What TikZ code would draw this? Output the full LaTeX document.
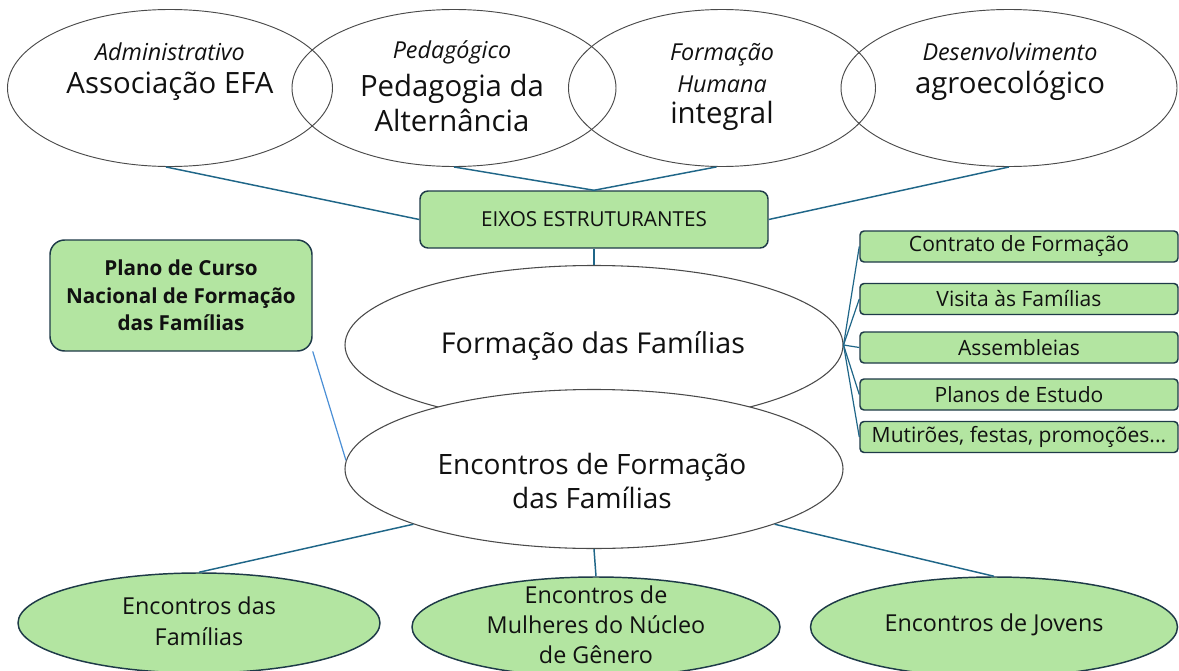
\documentclass[tikz,border=0pt]{standalone}
\usepackage{fontspec}
\setmainfont{Open Sans}
\usetikzlibrary{shapes.geometric}
\definecolor{grn}{HTML}{B3E5A1}
\definecolor{edgec}{HTML}{1E3A48}
\definecolor{lnk}{HTML}{1F6688}
\definecolor{lnkb}{HTML}{4A8FD6}
\definecolor{ellc}{HTML}{4A4A4A}
\definecolor{txt}{HTML}{111111}
\tikzset{
  topell/.style={ellipse, draw=ellc, line width=0.7pt, inner sep=0pt,
    minimum height={157*0.75pt}},
  midell/.style={ellipse, draw=ellc, fill=white, line width=0.8pt, inner sep=0pt,
    minimum width={498*0.75pt}, minimum height={159*0.75pt}},
  botell/.style={ellipse, draw=edgec, fill=grn, line width=1.1pt, inner sep=0pt,
    minimum height={100*0.75pt}},
  sidebox/.style={rectangle, rounded corners=3pt, draw=edgec, fill=grn, line width=1.1pt,
    minimum width={318*0.75pt}, minimum height={31*0.75pt}, inner sep=0pt,
    font=\fontsize{15.8}{19}\selectfont, text=txt},
  lbl/.style={text=txt, align=center, inner sep=0pt},
  itl/.style={lbl, font=\fontsize{17.5}{24}\selectfont\itshape},
  big/.style={lbl, font=\fontsize{22}{26}\selectfont},
  bottxt/.style={lbl, font=\fontsize{17.5}{22.5}\selectfont},
  conn/.style={draw=lnk, line width=1.1pt},
}
\begin{document}
\begin{tikzpicture}[x=0.75pt,y=-0.75pt]
\useasboundingbox (0,0) rectangle (1179,671);
\fill[white] (0,0) rectangle (1179,671);

% top ellipses
\node[topell, minimum width={325*0.75pt}] (e1) at (170,88) {};
\node[topell, minimum width={324*0.75pt}] (e2) at (454,88) {};
\node[topell, minimum width={307*0.75pt}] (e3) at (722,88) {};
\node[topell, minimum width={336*0.75pt}] (e4) at (1009,88) {};

\node[itl] (l1) at (170,52) {Administrativo};
\node[big] (m1) at (170,86) {Associação EFA};
\node[itl] (l2) at (452,52) {Pedagógico};
\node[big] (m2) at (452,103) {Pedagogia da\\Alternância};
\node[itl] (l3) at (722,68) {Formação\\Humana};
\node[big] (m3) at (722,116) {integral};
\node[itl] (l4) at (1010,52) {Desenvolvimento};
\node[big] (m4) at (1010,86) {agroecológico};

% eixos
\node[rectangle, rounded corners=6pt, draw=edgec, fill=grn, line width=1.1pt,
  minimum width={348*0.75pt}, minimum height={57*0.75pt}, inner sep=0pt,
  font=\fontsize{15.5}{18}\selectfont, text=txt] (eixos) at (594,219.5) {EIXOS ESTRUTURANTES};

% plano
\node[rectangle, rounded corners=11pt, draw=edgec, fill=grn, line width=1.1pt,
  minimum width={262*0.75pt}, minimum height={111*0.75pt}, inner sep=0pt, align=center,
  font=\fontsize{15.5}{20.5}\selectfont\bfseries, text=txt] (plano) at (181,295.5)
  {Plano de Curso\\Nacional de Formação\\das Famílias};

% middle ellipses
\node[midell] (form) at (594,345) {};
\node[big, font=\fontsize{21.5}{26}\selectfont] (formt) at (593,346) {Formação das Famílias};
\node[midell] (enc) at (594,469) {};
\node[big, font=\fontsize{21}{26}\selectfont] (enct) at (592,481) {Encontros de Formação\\das Famílias};

% side boxes
\node[sidebox] (s1) at (1019,246.5) {Contrato de Formação};
\node[sidebox] (s2) at (1019,299) {Visita às Famílias};
\node[sidebox] (s3) at (1019,347.5) {Assembleias};
\node[sidebox] (s4) at (1019,394.5) {Planos de Estudo};
\node[sidebox] (s5) at (1019,437) {Mutirões, festas, promoções...};

% bottom ellipses
\node[botell, minimum width={362*0.75pt}] (b1) at (199,623) {};
\node[bottxt, font=\fontsize{17.5}{23}\selectfont] (b1t) at (199,621) {Encontros das\\Famílias};
\node[botell, minimum width={368*0.75pt}] (b2) at (596,627) {};
\node[bottxt] (b2t) at (596,625) {Encontros de\\Mulheres do Núcleo\\de Gênero};
\node[botell, minimum width={367*0.75pt}] (b3) at (994,627) {};
\node[bottxt] (b3t) at (994,625) {Encontros de Jovens};

% connectors
\draw[conn] (e1.-93) -- (eixos.west);
\draw[conn] (e2.south) -- (eixos.north);
\draw[conn] (e3.-94) -- (eixos.north);
\draw[conn] (e4.south) -- (eixos.east);
\draw[conn] (eixos.south) -- (form.north);
\foreach \s in {s1,s2,s3,s4,s5} \draw[conn, line width=0.9pt] (form.east) -- (\s.west);
\draw[draw=lnkb, line width=0.9pt] (plano.-23) -- (enc.178);
\draw[conn] (enc.197) -- (b1.north);
\draw[conn] (enc.south) -- (b2.north);
\draw[conn] (enc.343) -- (b3.north);
\end{tikzpicture}
\end{document}
